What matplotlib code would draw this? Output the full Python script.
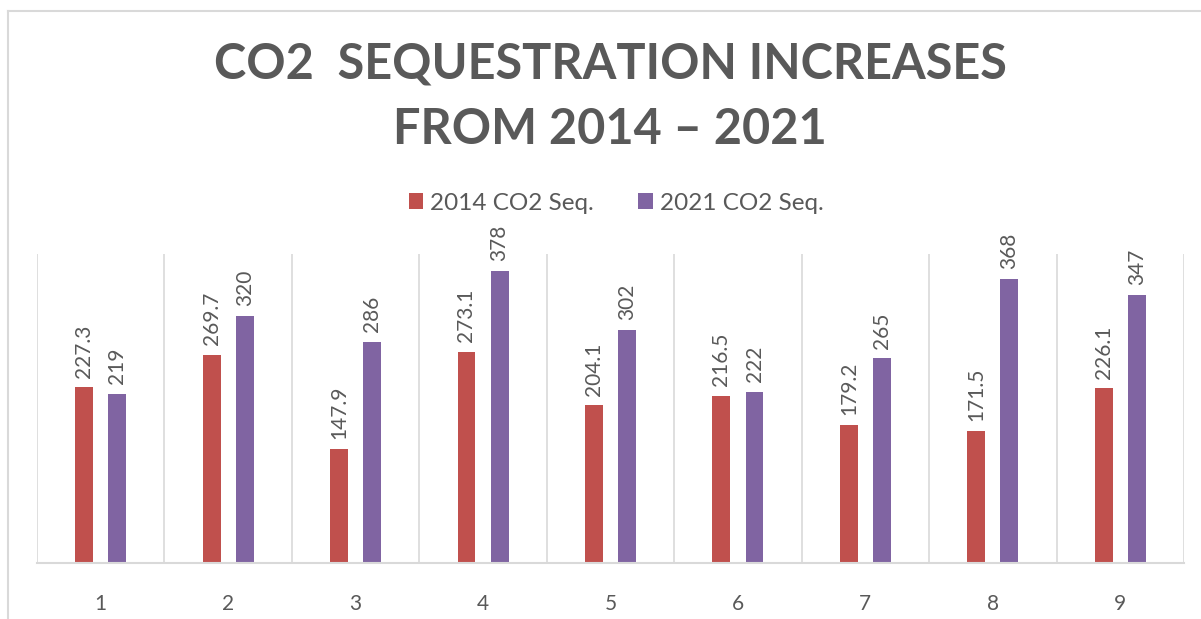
import numpy as np
import matplotlib.pyplot as plt
from matplotlib.lines import Line2D

# data
categories = ['1', '2', '3', '4', '5', '6', '7', '8', '9']
seq_2014 = [227.3, 269.7, 147.9, 273.1, 204.1, 216.5, 179.2, 171.5, 226.1]
seq_2021 = [219, 320, 286, 378, 302, 222, 265, 368, 347]
labels_2014 = ['227.3', '269.7', '147.9', '273.1', '204.1', '216.5', '179.2', '171.5', '226.1']
labels_2021 = ['219', '320', '286', '378', '302', '222', '265', '368', '347']

plt.rcParams['font.family'] = ['Lato', 'DejaVu Sans']
W, H = 1201, 619
fig = plt.figure(figsize=(W / 100, H / 100), dpi=100)

# outer chart border (top and left visible)
fig.add_artist(Line2D([8 / W, 1], [1 - 11 / H, 1 - 11 / H], color='#d9d9d9', lw=1.5))
fig.add_artist(Line2D([8 / W, 8 / W], [0, 1 - 11 / H], color='#d9d9d9', lw=1.5))

ax = fig.add_axes([37 / W, 1 - 563 / H, (1184 - 37) / W, (563 - 254) / H])
x = np.arange(len(categories))
w = 0.141
off = 0.13
b1 = ax.bar(x - off, seq_2014, w, color='#C0504D', label='2014 CO2 Seq.')
b2 = ax.bar(x + off, seq_2021, w, color='#8064A2', label='2021 CO2 Seq.')

for bars, labs in ((b1, labels_2014), (b2, labels_2021)):
    for r, t in zip(bars, labs):
        ax.annotate(t, (r.get_x() + r.get_width() / 2, r.get_height()),
                    xytext=(0, 7), textcoords='offset points', rotation=90,
                    ha='center', va='bottom', fontsize=15, color='#595959')

ax.set_xlim(-0.5, len(categories) - 0.5)
ax.set_ylim(0, 400)
ax.set_yticks([])
ax.set_xticks(x)
ax.set_xticklabels(categories, fontsize=15, color='#595959')
ax.tick_params(axis='x', length=0, pad=22)
for xv in np.arange(-0.5, len(categories), 1.0):
    ax.axvline(xv, color='#d9d9d9', lw=1.2, zorder=0)
for s in ['top', 'right', 'left']:
    ax.spines[s].set_visible(False)
ax.spines['bottom'].set_color('#d9d9d9')
ax.spines['bottom'].set_linewidth(1.5)

fig.text(0.508, 1 - 64 / H, 'CO2  SEQUESTRATION INCREASES', ha='center', va='center',
         fontsize=35, fontweight='bold', color='#595959')
fig.text(0.508, 1 - 130 / H, 'FROM 2014 \u2013 2021', ha='center', va='center',
         fontsize=35, fontweight='bold', color='#595959')

fig.legend(handles=[b1, b2], loc='center', bbox_to_anchor=(0.513, 1 - 203 / H), ncol=2,
           frameon=False, fontsize=17.5, handlelength=0.6, handleheight=0.6,
           handletextpad=0.3, columnspacing=1.8, labelcolor='#595959')

fig.savefig('out.png', dpi=100)
